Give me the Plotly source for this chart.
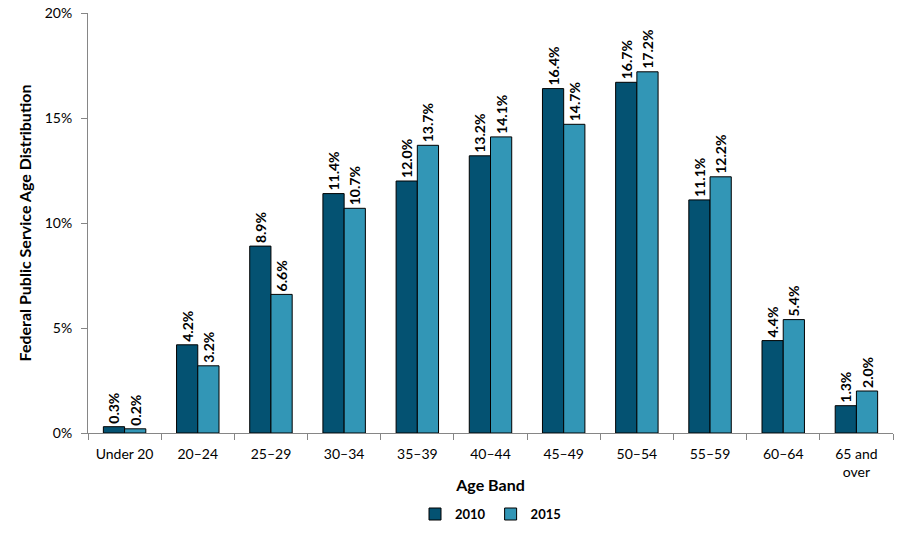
import plotly.graph_objects as go

categories = ["Under 20", "20–24", "25–29", "30–34", "35–39", "40–44",
              "45–49", "50–54", "55–59", "60–64", "65 and<br>over"]
values_2010 = [0.3, 4.2, 8.9, 11.4, 12.0, 13.2, 16.4, 16.7, 11.1, 4.4, 1.3]
values_2015 = [0.2, 3.2, 6.6, 10.7, 13.7, 14.1, 14.7, 17.2, 12.2, 5.4, 2.0]
y_ticks = [0, 5, 10, 15, 20]
y_tick_labels = ["0%", "5%", "10%", "15%", "20%"]

FONT = "Lato, Carlito, Calibri, sans-serif"
c2010 = "#045272"
c2015 = "#3296B6"

fig = go.Figure()
for name, vals, col in [("2010", values_2010, c2010), ("2015", values_2015, c2015)]:
    fig.add_trace(go.Bar(
        x=categories, y=vals, name=name,
        marker=dict(color=col, line=dict(color="#000000", width=1)),
        texttemplate="%{y:.1f}%", textposition="outside", textangle=-90,
        constraintext="none", cliponaxis=False,
        textfont=dict(family=FONT, size=14, color="#000000", weight="bold"),
    ))

fig.update_layout(
    width=897, height=538,
    margin=dict(l=88, r=4, t=13, b=105, autoexpand=False),
    paper_bgcolor="white", plot_bgcolor="white",
    barmode="group", bargap=0.42, bargroupgap=0,
    font=dict(family=FONT, size=13, color="#000000"),
    showlegend=True,
    legend=dict(orientation="h", x=0.5, xanchor="center", y=-0.193, yanchor="middle",
                font=dict(size=13, weight="bold"), itemwidth=30, traceorder="normal"),
    xaxis=dict(
        automargin=False,
        showline=True, linecolor="#868686", linewidth=1,
        ticks="outside", tickson="boundaries", ticklen=6, tickcolor="#868686",
        tickfont=dict(size=14), ticklabelstandoff=8,
        title=dict(text="Age Band", font=dict(size=16, weight="bold"), standoff=0),
    ),
    yaxis=dict(
        automargin=False,
        range=[0, 20], tickvals=y_ticks, ticktext=y_tick_labels,
        showline=True, linecolor="#868686", linewidth=1,
        ticks="outside", ticklen=6, tickcolor="#868686",
        showgrid=False, zeroline=False, tickfont=dict(size=14), ticklabelstandoff=6,
        title=dict(text="Federal Public Service Age Distribution",
                   font=dict(size=16, weight="bold"), standoff=9),
    ),
)

fig.write_html("out.html", config={"displayModeBar": False},
               post_script="document.body.style.margin='0';")
